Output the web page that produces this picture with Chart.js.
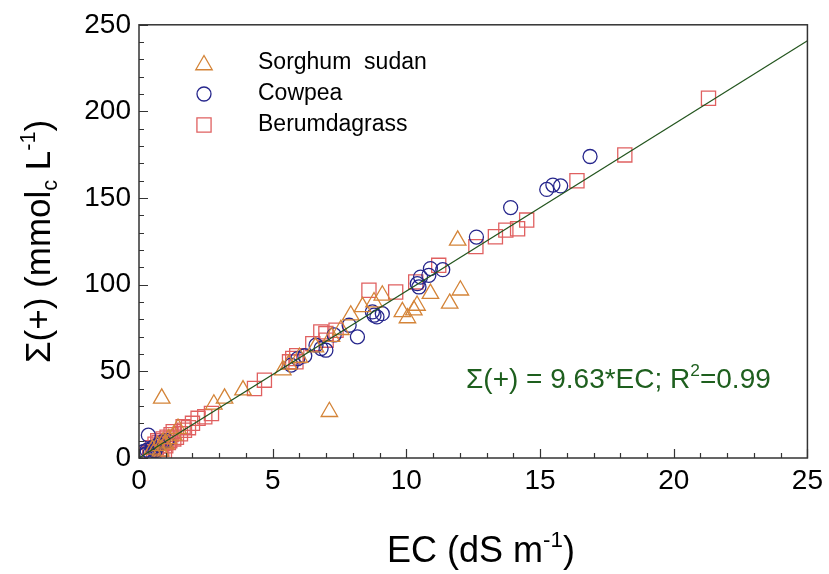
<!DOCTYPE html>
<html>
<head>
<meta charset="utf-8">
<script src="https://cdn.jsdelivr.net/npm/chart.js@4/dist/chart.umd.min.js"></script>
<style>
  html, body { margin: 0; padding: 0; background: #fff; }
  #wrap { width: 829px; height: 574px; }
</style>
</head>
<body>
<div id="wrap"><canvas id="c" width="829" height="574"></canvas></div>
<script>
// EC (dS m-1) and sum of cations (mmolc L-1) for each crop
const sorghumEC  = [0.85, 7.12, 11.92, 12.02, 11.62, 10.9, 10.4, 10.28, 9.85, 10.04, 9.1, 8.79, 8.36, 7.92, 7.55, 7.2, 6.6, 6.0, 5.6, 5.38, 3.89, 3.2, 2.8, 1.46, 1.3, 1.1, 0.9, 0.7, 0.5, 0.8, 1.0];
const sorghumSum = [34.4, 26.7, 125.6, 96.8, 89.2, 94.9, 88.0, 85.3, 84.3, 80.8, 93.9, 90.0, 87.2, 82.4, 74.0, 70.0, 64.0, 58.0, 54.0, 50.7, 39.2, 34.4, 31.0, 17.0, 13.0, 11.0, 9.0, 7.0, 5.0, 4.0, 8.0];

const cowpeaEC  = [16.87, 15.25, 15.48, 15.77, 13.9, 12.62, 11.36, 10.9, 10.84, 10.53, 10.41, 10.47, 9.1, 8.79, 8.73, 8.9, 8.17, 7.86, 7.3, 6.81, 6.99, 6.62, 6.2, 5.69, 5.94, 0.35, 0.16, 0.22, 0.3, 0.42, 0.5, 0.6, 0.75, 0.9, 1.05, 0.28];
const cowpeaSum = [174.0, 155.0, 157.5, 157.0, 144.5, 127.5, 108.7, 109.3, 105.4, 104.4, 100.6, 98.7, 83.3, 82.4, 84.3, 81.4, 69.9, 76.6, 71.0, 63.2, 62.2, 65.1, 59.0, 53.6, 57.4, 13.2, 3.6, 1.8, 4.5, 3.0, 6.0, 4.2, 7.5, 9.5, 10.0, 2.5];

const bermudaEC  = [21.3, 18.17, 16.38, 14.5, 14.16, 13.72, 13.33, 12.6, 11.21, 10.35, 9.6, 8.6, 7.37, 6.99, 6.8, 7.0, 6.5, 5.9, 5.87, 5.75, 5.63, 4.69, 4.32, 2.71, 2.46, 2.21, 2.0, 1.85, 1.7, 1.65, 1.55, 1.4, 1.3, 1.28, 1.2, 1.15, 1.1, 1.05, 1.0, 0.95, 0.9, 0.9, 0.85, 0.8, 0.75, 0.7, 0.65, 0.6, 0.55, 0.5, 0.4, 0.3];
const bermudaSum = [207.6, 174.9, 160.0, 137.3, 132.3, 131.5, 127.7, 122.0, 111.2, 101.6, 95.8, 96.8, 73.7, 71.8, 72.8, 68.0, 66.0, 59.0, 55.5, 57.4, 55.5, 44.9, 40.1, 25.7, 23.8, 22.9, 20.0, 17.5, 16.0, 18.0, 14.0, 12.0, 11.0, 15.2, 13.5, 10.0, 9.0, 12.0, 7.0, 3.5, 11.0, 8.5, 5.0, 7.0, 9.0, 10.0, 6.0, 8.0, 4.0, 6.0, 3.0, 2.0];

// Regression through the origin: Σ(+) = 9.63*EC
const fitSlope = 9.63;
const fitRange = [0, 25];

const xTicks = [0, 5, 10, 15, 20, 25];
const yTicks = [0, 50, 100, 150, 200, 250];

const toPoints = (xs, ys) => xs.map((v, i) => ({ x: v, y: ys[i] }));

const COL_SORGHUM = 'rgb(212,132,56)';
const COL_COWPEA  = 'rgb(38,38,140)';
const COL_BERMUDA = 'rgb(224,96,96)';
const COL_FIT     = 'rgb(35,85,30)';

const FONT = '"Liberation Sans", Arial, sans-serif';

// inward ticks plus a full frame around the plotting area
const frameTicks = {
  id: 'frameTicks',
  afterDraw(chart) {
    const { ctx, chartArea: a, scales: { x, y } } = chart;
    ctx.save();
    ctx.strokeStyle = '#333';
    ctx.lineWidth = 1.5;
    ctx.strokeRect(a.left, a.top, a.right - a.left, a.bottom - a.top);
    ctx.lineWidth = 1.2;
    ctx.beginPath();
    for (let v = 0; v <= 25; v += 1) {
      const px = Math.round(x.getPixelForValue(v)) + 0.5;
      const len = v % 5 === 0 ? 9 : 5;
      ctx.moveTo(px, a.bottom);
      ctx.lineTo(px, a.bottom - len);
    }
    for (let v = 0; v <= 250; v += 10) {
      const py = Math.round(y.getPixelForValue(v)) + 0.5;
      const len = v % 50 === 0 ? 9 : 5;
      ctx.moveTo(a.left, py);
      ctx.lineTo(a.left + len, py);
    }
    ctx.stroke();
    ctx.restore();
  }
};

// axis titles with sub/superscripts, legend and the regression label
const annotations = {
  id: 'annotations',
  afterDraw(chart) {
    const { ctx, chartArea: a } = chart;
    ctx.save();
    ctx.textBaseline = 'alphabetic';

    // draws a run of [text, kind] pieces starting at x0 on baseline y0
    const runs = (pieces, size, x0, y0, measureOnly) => {
      let w = 0;
      for (const [t, kind] of pieces) {
        const s = kind ? size * 0.62 : size;
        ctx.font = `${s}px ${FONT}`;
        const dy = kind === 'sub' ? size * 0.2 : kind === 'sup' ? -size * 0.42 : 0;
        if (!measureOnly) ctx.fillText(t, x0 + w, y0 + dy);
        w += ctx.measureText(t).width;
      }
      return w;
    };

    // x title
    ctx.fillStyle = '#000';
    const xt = [['EC (dS m'], ['-1', 'sup'], [')']];
    const xw = runs(xt, 36, 0, 0, true);
    runs(xt, 36, 481 - xw / 2, 562);

    // y title, rotated
    const yt = [['Σ(+) (mmol'], ['c', 'sub'], [' L'], ['-1', 'sup'], [')']];
    const yw = runs(yt, 35, 0, 0, true);
    ctx.save();
    ctx.translate(50, (a.top + a.bottom) / 2);
    ctx.rotate(-Math.PI / 2);
    runs(yt, 35, -yw / 2, 0);
    ctx.restore();

    // legend
    const items = [
      ['Sorghum  sudan', 'triangle', COL_SORGHUM, 9.5],
      ['Cowpea', 'circle', COL_COWPEA, 7],
      ['Berumdagrass', 'rect', COL_BERMUDA, 10]
    ];
    items.forEach(([label, style, col, r], i) => {
      const cy = 63 + i * 31;
      ctx.strokeStyle = col;
      ctx.fillStyle = 'rgba(0,0,0,0)';
      ctx.lineWidth = 1.3;
      Chart.helpers.drawPoint(ctx, { pointStyle: style, radius: r, borderWidth: 1.3, rotation: 0 }, 204, style === 'triangle' ? cy + 2 : cy);
      ctx.fillStyle = '#000';
      ctx.font = `23px ${FONT}`;
      ctx.textBaseline = 'middle';
      ctx.fillText(label, 258, cy);
    });

    // regression label
    ctx.textBaseline = 'alphabetic';
    ctx.fillStyle = 'rgb(30,95,30)';
    runs([['Σ(+) = ' + fitSlope.toFixed(2) + '*EC; R'], ['2', 'sup'], ['=0.99']], 28, 466, 388);
    ctx.restore();
  }
};

const markerSet = (label, xs, ys, style, col, r) => ({
  label,
  data: toPoints(xs, ys),
  pointStyle: style,
  pointRadius: r,
  pointHoverRadius: r,
  pointBorderWidth: 1.3,
  borderColor: col,
  backgroundColor: 'rgba(0,0,0,0)',
  showLine: false,
  order: 1
});

new Chart(document.getElementById('c'), {
  type: 'scatter',
  data: {
    datasets: [
      {
        label: 'fit',
        type: 'line',
        data: fitRange.map(v => ({ x: v, y: fitSlope * v })),
        borderColor: COL_FIT,
        borderWidth: 1.2,
        pointRadius: 0,
        fill: false,
        order: 0
      },
      markerSet('Sorghum sudan', sorghumEC, sorghumSum, 'triangle', COL_SORGHUM, 9.5),
      markerSet('Cowpea', cowpeaEC, cowpeaSum, 'circle', COL_COWPEA, 7),
      markerSet('Berumdagrass', bermudaEC, bermudaSum, 'rect', COL_BERMUDA, 10)
    ]
  },
  options: {
    responsive: false,
    animation: false,
    devicePixelRatio: 1,
    layout: { padding: { top: 24, right: 19, left: 0, bottom: 0 } },
    plugins: { legend: { display: false }, tooltip: { enabled: false } },
    scales: {
      x: {
        type: 'linear',
        min: 0, max: 25,
        afterBuildTicks: s => { s.ticks = xTicks.map(v => ({ value: v })); },
        afterFit: s => { s.height = 116; },
        grid: { display: false, drawTicks: false },
        border: { display: false },
        ticks: { color: '#000', font: { family: FONT, size: 28 }, padding: 6, maxRotation: 0 }
      },
      y: {
        type: 'linear',
        min: 0, max: 250,
        afterBuildTicks: s => { s.ticks = yTicks.map(v => ({ value: v })); },
        afterFit: s => { s.width = 139; },
        grid: { display: false, drawTicks: false },
        border: { display: false },
        ticks: { color: '#000', font: { family: FONT, size: 28 }, padding: 8 }
      }
    }
  },
  plugins: [frameTicks, annotations]
});
</script>
</body>
</html>
